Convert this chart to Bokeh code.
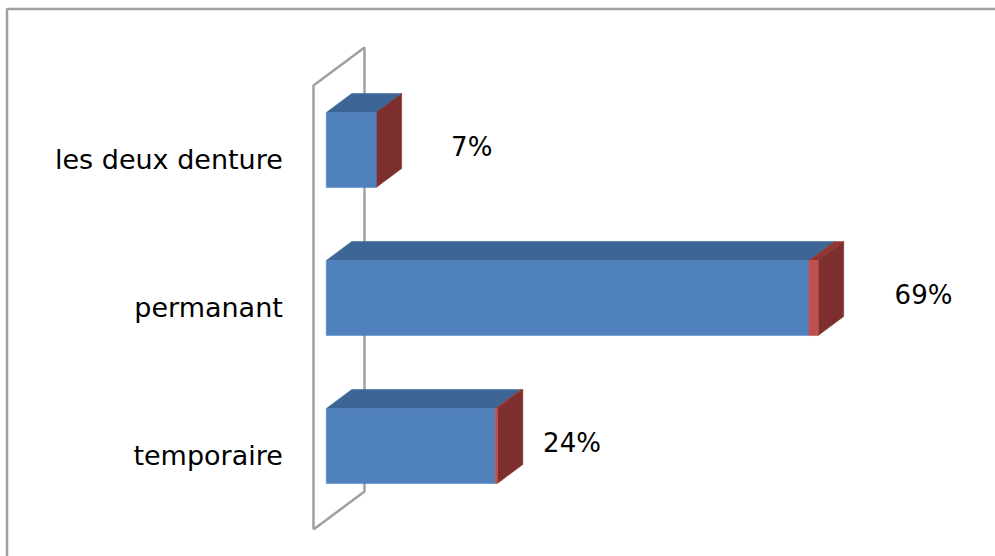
from bokeh.plotting import figure
from bokeh.models import Range1d
from bokeh.core.properties import value
from bokeh.embed import file_html
from bokeh.resources import INLINE

# ---------------- data ----------------
categories = ["temporaire", "permanant", "les deux denture"]
totals = [24, 69, 7]            # percent shown on each bar
red_part = [0.3, 1.3, 0.0]      # thin second-series segment at the bar end
pct_labels = ["24%", "69%", "7%"]

# ---------------- layout / style ----------------
W, H = 995, 556
PX_PER_PCT = 7.13
PX_PER_CAT = 148.0
ORIGIN_X_PX = 313.0             # canvas px of value 0 at depth 0
ORIGIN_Y_PX = 101.0             # canvas px (from bottom) of category 0 at depth 0
DX = 51.0 / PX_PER_PCT          # 3-D depth shift (x, in data units)
DY = 38.0 / PX_PER_CAT          # 3-D depth shift (y, in data units)
D0, D1 = 0.25, 0.75             # bar depth span
BAR_H = 0.507
label_nudge = [8.2, 12.5, 12.3]  # x offset of value labels beyond bar end

FRONT_BLUE = "#4F81BD"
TOP_BLUE = "#3D6596"
FRONT_RED = "#C0504D"
TOP_RED = "#8E3634"
SIDE_RED = "#7D2F2D"
WALL = "#A0A0A0"
FONT = "DejaVu Sans"

x0 = -ORIGIN_X_PX / PX_PER_PCT
x1 = x0 + W / PX_PER_PCT
y0 = -ORIGIN_Y_PX / PX_PER_CAT
y1 = y0 + H / PX_PER_CAT
p = figure(width=W, height=H, output_backend="svg", toolbar_location=None,
           x_range=Range1d(x0, x1), y_range=Range1d(y0, y1),
           x_axis_location=None, y_axis_location=None, min_border=0)
p.grid.visible = False
p.outline_line_color = None
p.background_fill_color = "white"
p.border_fill_color = "white"

# chart-area border (top and left edges; right/bottom lie outside the view)
bx_left = x0 + 6.5 / PX_PER_PCT
by_top = y1 - 8.5 / PX_PER_CAT
p.line([bx_left, bx_left, x1 + 5], [y0 - 1, by_top, by_top],
       line_color=WALL, line_width=2.5)

# back wall of the 3-D category axis
n = len(categories)
wall_x = [0, 0, DX, DX, 0]
wall_y = [-0.5, n - 0.5, n - 0.5 + DY, -0.5 + DY, -0.5]
p.line(wall_x, wall_y, line_color=WALL, line_width=2.5)

# bars
for i, (tot, red) in enumerate(zip(totals, red_part)):
    blue = tot - red
    b0 = i - BAR_H / 2
    t0 = i + BAR_H / 2
    fx = D0 * DX
    bx = D1 * DX
    fyb, fyt = b0 + D0 * DY, t0 + D0 * DY
    byb, byt = b0 + D1 * DY, t0 + D1 * DY
    # top faces
    p.patch([fx, fx + blue, bx + blue, bx], [fyt, fyt, byt, byt],
            fill_color=TOP_BLUE, line_color=TOP_BLUE, line_width=0.5)
    if red > 0:
        p.patch([fx + blue, fx + tot, bx + tot, bx + blue], [fyt, fyt, byt, byt],
                fill_color=TOP_RED, line_color=TOP_RED, line_width=0.5)
    # side face
    p.patch([fx + tot, fx + tot, bx + tot, bx + tot], [fyb, fyt, byt, byb],
            fill_color=SIDE_RED, line_color=SIDE_RED, line_width=0.5)
    # front faces
    p.quad(left=fx, right=fx + blue, bottom=fyb, top=fyt,
           fill_color=FRONT_BLUE, line_color=FRONT_BLUE, line_width=0.5)
    if red > 0:
        p.quad(left=fx + blue, right=fx + tot, bottom=fyb, top=fyt,
               fill_color=FRONT_RED, line_color=FRONT_RED, line_width=0.5)

# value labels
lx = [t + nd for t, nd in zip(totals, label_nudge)]
ly = [i + D0 * DY + 0.02 for i in range(n)]
p.text(x=lx, y=ly, text=pct_labels, text_font=value(FONT), text_font_size="26px",
       text_color="#000000", text_align="left", text_baseline="middle")

# category labels
cx = [-4.3] * n
cy = [i for i in range(n)]
p.text(x=cx, y=cy, text=categories, text_font=value(FONT), text_font_size="27px",
       text_color="#000000", text_align="right", text_baseline="middle")

open("out.html", "w").write(file_html(p, INLINE))
